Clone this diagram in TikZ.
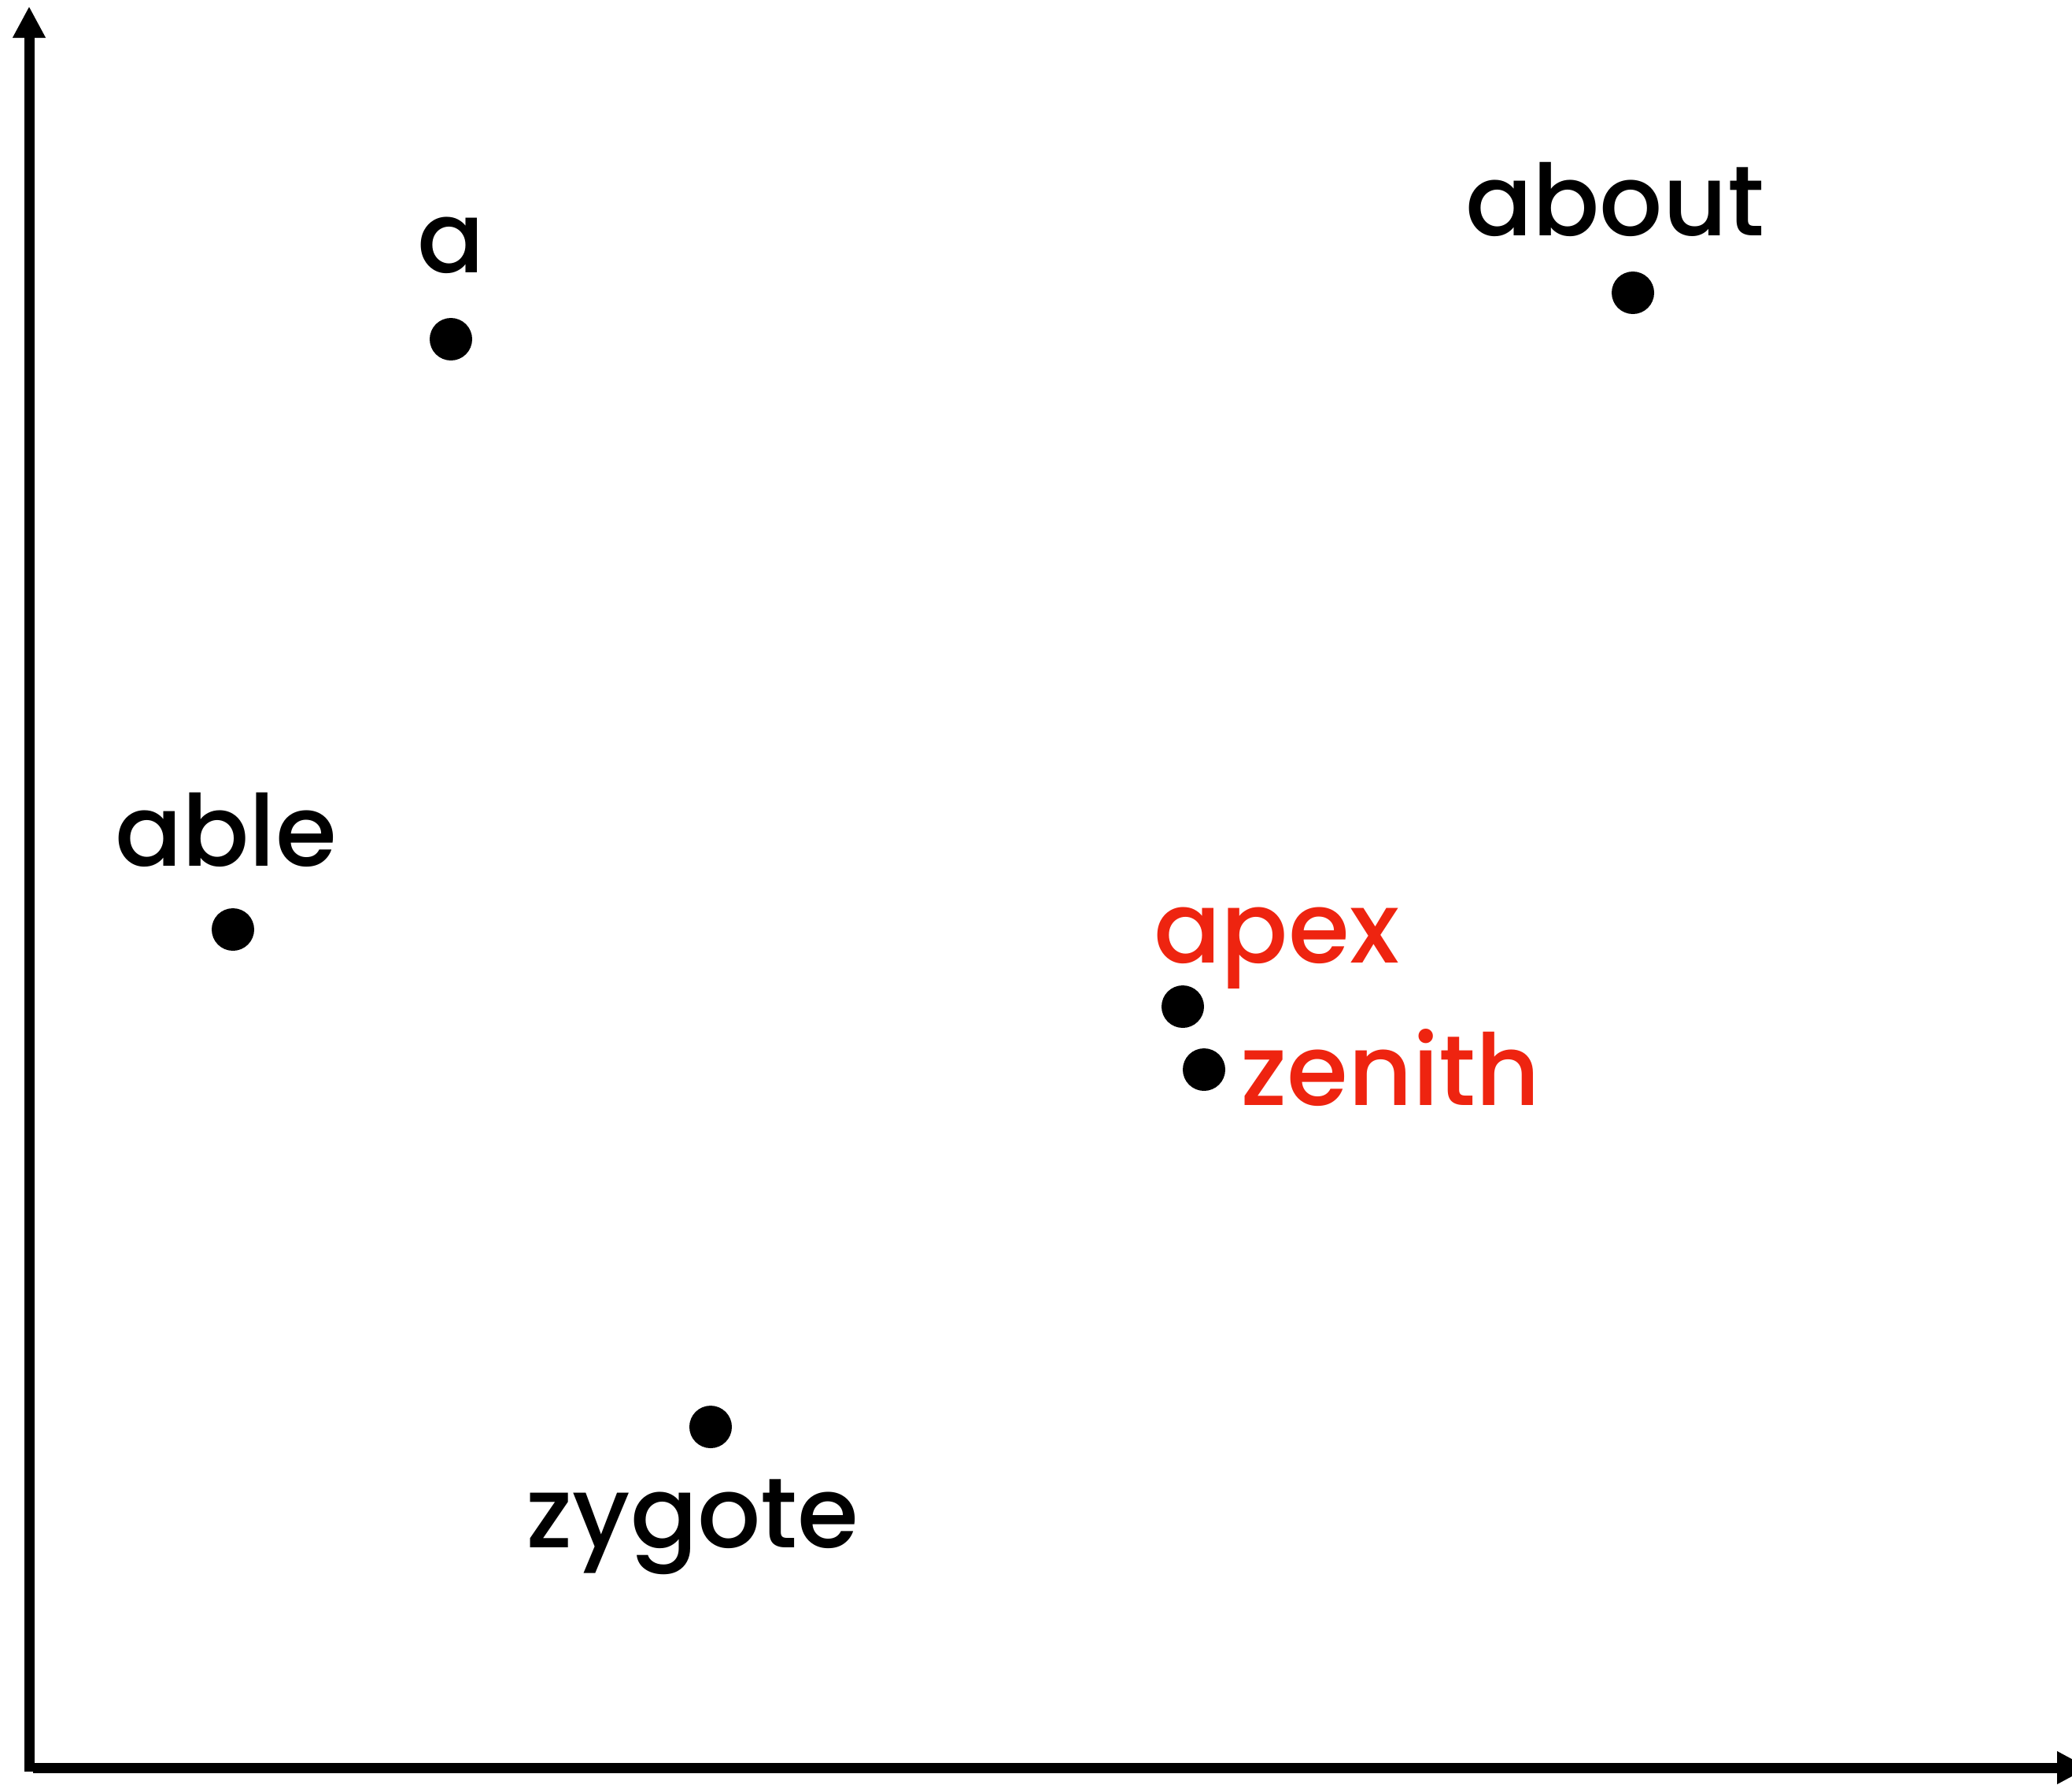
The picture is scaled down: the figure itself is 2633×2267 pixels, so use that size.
\documentclass[tikz,border=0pt]{standalone}
\usepackage{fontspec}
\setmainfont{Poppins}[UprightFont=* Medium]
\usetikzlibrary{arrows.meta}
\definecolor{wordred}{HTML}{EE2410}
\tikzset{
  dot/.style={circle,fill=black,inner sep=0pt,minimum size=27pt},
  word/.style={font=\fontsize{63}{63}\selectfont,anchor=base,inner sep=0pt},
  axis/.style={line width=6.5pt,-{Triangle[length=20pt,width=19.5pt]}}
}
\begin{document}
\begin{tikzpicture}[x=0.5pt,y=-0.5pt]
\useasboundingbox (0,0) rectangle (2633,2267);
% axes
\coordinate (yfoot) at (37,2251);\coordinate (ytip) at (37,8);
\coordinate (xfoot) at (42,2246);\coordinate (xtip) at (2654,2246);
\draw[axis] (yfoot)--(ytip);
\draw[axis] (xfoot)--(xtip);
% words
\node[dot] (a) at (573,431){};\node[word] (la) at (573,346){a};
\node[dot] (about) at (2075,372){};\node[word] (labout) at (2052,299){about};
\node[dot] (able) at (296,1181){};\node[word] (lable) at (287,1100){able};
\node[dot] (apex) at (1503,1279){};\node[word,anchor=base west,text=wordred] (lapex) at (1466,1223){apex};
\node[dot] (zenith) at (1530,1359){};\node[word,anchor=base west,text=wordred] (lzenith) at (1576,1404){zenith};
\node[dot] (zygote) at (903,1813){};\node[word] (lzygote) at (880,1966){zygote};
\end{tikzpicture}
\end{document}
